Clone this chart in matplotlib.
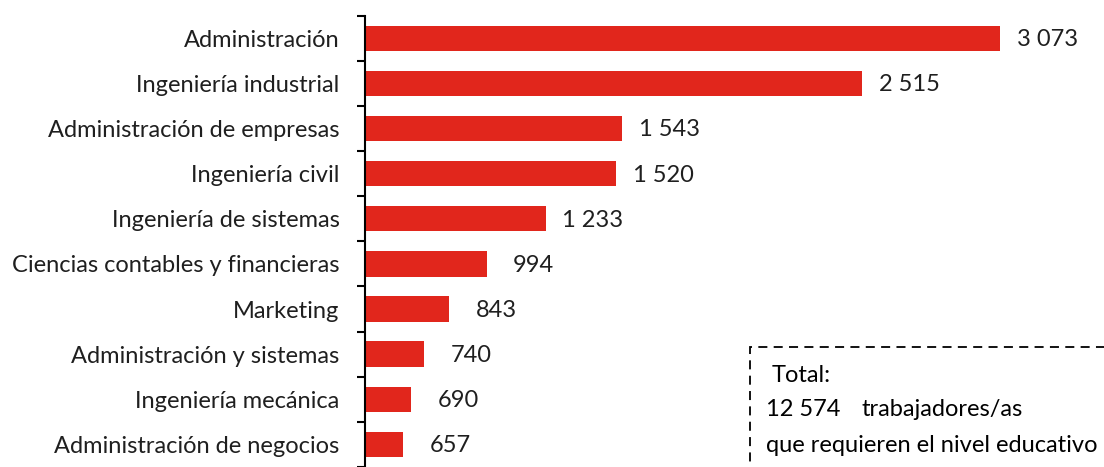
import matplotlib
matplotlib.use("Agg")
import matplotlib.pyplot as plt
from matplotlib.patches import Rectangle

categories = ["Administración", "Ingeniería industrial", "Administración de empresas",
              "Ingeniería civil", "Ingeniería de sistemas", "Ciencias contables y financieras",
              "Marketing", "Administración y sistemas", "Ingeniería mecánica",
              "Administración de negocios"]
values = [3073, 2515, 1543, 1520, 1233, 994, 843, 740, 690, 657]
value_labels = ["3 073", "2 515", "1 543", "1 520", "1 233", "994", "843", "740", "690", "657"]
box_lines = ["Total:", "12 574", "trabajadores/as", "que requieren el nivel educativo"]

plt.rcParams['font.family'] = ['Lato', 'DejaVu Sans']
W, H = 1104, 467
fig = plt.figure(figsize=(W / 100, H / 100), dpi=100)

ax_left, ax_right = 364.5, 1104
ax_top, ax_bot = 15.7, 467
ax = fig.add_axes([ax_left / W, 1 - ax_bot / H, (ax_right - ax_left) / W, (ax_bot - ax_top) / H])

xmin = 500
pxu = (1000 - ax_left) / (3073 - xmin)
xmax = xmin + (ax_right - ax_left) / pxu
rowpx = 45.62
ymax_bottom = -0.5 + (ax_bot - ax_top) / rowpx

color = "#E1261C"
txtcol = "#1f1f1f"
fs = 17
ypos = list(range(len(categories)))
ax.barh(ypos, [v - xmin for v in values], left=xmin, height=0.563, color=color, zorder=2)
ax.set_xlim(xmin, xmax)
ax.set_ylim(ymax_bottom, -0.5)

for y, v, lab in zip(ypos, values, value_labels):
    ax.annotate(lab, (v, y), xytext=(34, -1), textcoords="offset points",
                ha="center", va="center", fontsize=fs, color=txtcol)

ax.set_yticks(ypos)
ax.set_yticklabels(categories, fontsize=fs, color=txtcol)
ax.tick_params(axis="y", which="major", length=0, pad=18)
ax.set_yticks([y - 0.5 for y in ypos] + [len(ypos) - 0.5], minor=True)
ax.tick_params(axis="y", which="minor", length=6, width=1.5, color="black", direction="out")
ax.set_xticks([])
for s in ["top", "right", "bottom"]:
    ax.spines[s].set_visible(False)
ax.spines["left"].set_linewidth(1.5)

# dashed total box
bx0, by0 = 750 / W, 1 - 347 / H
fig.patches.append(Rectangle((bx0, -0.1), 1.2 - bx0, by0 + 0.1, transform=fig.transFigure,
                             fill=False, edgecolor="black", linestyle=(0, (5, 3.5)), linewidth=1.3))
fig.text(772 / W, 1 - 376 / H, box_lines[0], fontsize=fs, va="center", ha="left", color="black")
fig.text(766 / W, 1 - 410 / H, box_lines[1], fontsize=fs, va="center", ha="left", color="black")
fig.text(862 / W, 1 - 410 / H, box_lines[2], fontsize=fs, va="center", ha="left", color="black")
fig.text(766 / W, 1 - 446 / H, box_lines[3], fontsize=fs, va="center", ha="left", color="black")

fig.savefig("out.png", dpi=100)
